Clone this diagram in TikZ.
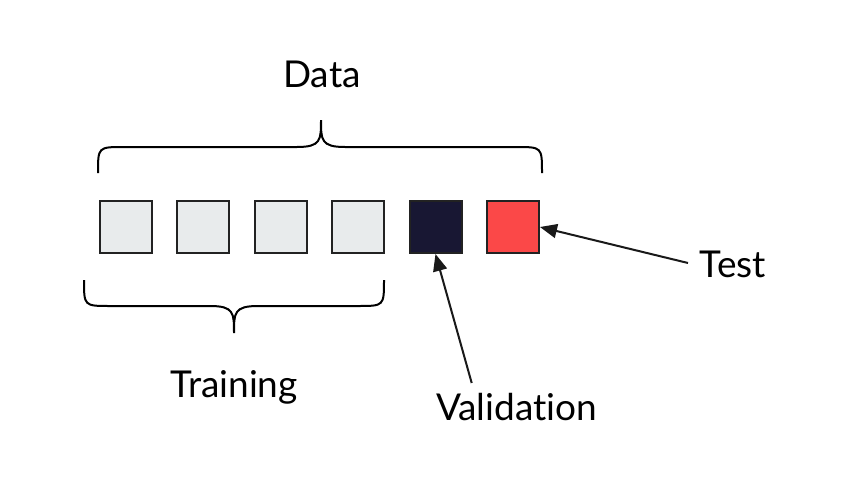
\documentclass[tikz,border=0pt]{standalone}
\usepackage{fontspec}
\setmainfont[RawFeature={-liga;-dlig;-clig}]{Lato}
\usetikzlibrary{arrows.meta}
\definecolor{boxgray}{HTML}{E8EBEC}
\definecolor{navy}{HTML}{181733}
\definecolor{testred}{HTML}{FB4848}
\definecolor{edge}{HTML}{222222}
\tikzset{
  cell/.style={draw=edge, line width=2pt, minimum size=52pt, inner sep=0pt},
  lbl/.style={font=\fontsize{37}{44}\selectfont, text=black, inner sep=0pt, anchor=base},
  bracepath/.style={draw=black, line width=2pt},
  pointer/.style={draw=black!90, line width=2pt, -{Triangle[length=17pt,width=14pt]}}
}
\begin{document}
\begin{tikzpicture}[x=1pt,y=-1pt]
\useasboundingbox[fill=white] (0,0) rectangle (844,490);
% boxes
\node[cell, fill=boxgray] (b1) at (125.5,227) {};
\node[cell, fill=boxgray] (b2) at (203,227) {};
\node[cell, fill=boxgray] (b3) at (280.5,227) {};
\node[cell, fill=boxgray] (b4) at (358,227) {};
\node[cell, fill=navy] (val) at (435.5,227) {};
\node[cell, fill=testred] (test) at (513,227) {};
% braces
\draw[bracepath] (98,173) .. controls (98,147) and (98,147) .. (124,147) -- (297,147)
  .. controls (321,147) and (321,140) .. (321,120)
  .. controls (321,140) and (321,147) .. (345,147) -- (516,147)
  .. controls (542,147) and (542,147) .. (542,173);
\draw[bracepath] (84,280) .. controls (84,306) and (84,306) .. (110,306) -- (210,306)
  .. controls (234,306) and (234,313) .. (234,333)
  .. controls (234,313) and (234,306) .. (258,306) -- (358,306)
  .. controls (384,306) and (384,306) .. (384,280);
% labels
\node[lbl] (data) at (322,87) {Data};
\node[lbl] (training) at (234,397) {Training};
\node[lbl] (validation) at (516.5,420) {Validation};
\node[lbl] (testlbl) at (733,277) {Test};
% arrows
\coordinate (valtail) at (471.7,383);
\coordinate (testtail) at (688,263);
\draw[pointer] (valtail) -- (val.south);
\draw[pointer] (testtail) -- (test.east);
\end{tikzpicture}
\end{document}
